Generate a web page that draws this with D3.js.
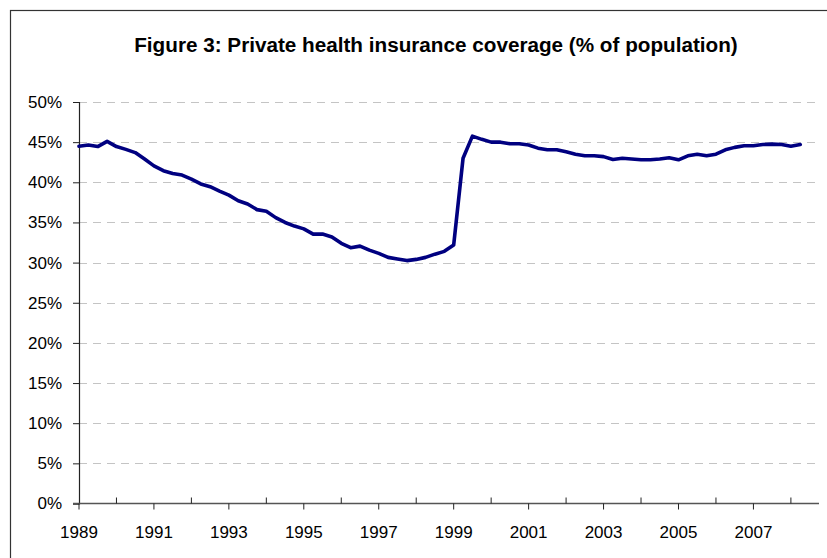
<!DOCTYPE html>
<html>
<head>
<meta charset="utf-8">
<script src="https://cdn.jsdelivr.net/npm/d3@7/dist/d3.min.js"></script>
<style>
  html, body { margin: 0; padding: 0; background: #ffffff; }
  svg { display: block; }
  text { font-family: "Liberation Sans", Arial, sans-serif; fill: #000; }
</style>
</head>
<body>
<svg id="chart" width="827" height="558"></svg>
<script>
// Quarterly private health insurance coverage, share of population (%),
// first value is the 1989 quarter, one value per quarter after that.
const startYear = 1989;
const quarterCount = 80; // 1989 Q1 .. 2008 Q4 on the category axis
const coverage = [
  44.5, 44.65, 44.45, 45.1, 44.45, 44.1, 43.7, 42.9,
  42.05, 41.45, 41.1, 40.9, 40.4, 39.8, 39.45, 38.9,
  38.4, 37.7, 37.3, 36.6, 36.4, 35.6, 35.0, 34.55,
  34.2, 33.55, 33.55, 33.2, 32.4, 31.85, 32.05, 31.55,
  31.15, 30.65, 30.45, 30.25, 30.4, 30.65, 31.05, 31.4,
  32.2, 43.0, 45.75, 45.35, 45.0, 45.0, 44.8, 44.8,
  44.65, 44.25, 44.05, 44.05, 43.8, 43.5, 43.3, 43.3,
  43.2, 42.85, 43.0, 42.9, 42.8, 42.8, 42.9, 43.05,
  42.8, 43.3, 43.5, 43.3, 43.5, 44.05, 44.35, 44.55,
  44.55, 44.7, 44.75, 44.7, 44.5, 44.7
];
const yTicks = [0, 5, 10, 15, 20, 25, 30, 35, 40, 45, 50];
const yearTicks = d3.range(1989, 2009);            // one tick per year
const yearLabels = ["1989", "1991", "1993", "1995", "1997", "1999", "2001", "2003", "2005", "2007"];
const title = "Figure 3: Private health insurance coverage (% of population)";

const svg = d3.select("#chart");

// Outer chart frame
svg.append("rect")
  .attr("x", 10.5).attr("y", 10.5)
  .attr("width", 830).attr("height", 560)
  .attr("fill", "none")
  .attr("stroke", "#333")
  .attr("stroke-width", 1.2);

const plot = { left: 79, right: 819, top: 102, bottom: 503.5 };

const x = d3.scaleLinear()
  .domain([startYear, startYear + (quarterCount - 1) / 4])
  .range([plot.left, plot.right]);
const y = d3.scaleLinear()
  .domain([0, 50])
  .range([plot.bottom, plot.top]);

// Title
svg.append("text")
  .attr("x", 436)
  .attr("y", 51.5)
  .attr("text-anchor", "middle")
  .style("font-weight", "bold")
  .style("font-size", "20.7px")
  .text(title);

// Dashed horizontal gridlines
svg.append("g")
  .selectAll("line")
  .data(yTicks.filter(d => d > 0))
  .join("line")
  .attr("x1", plot.left).attr("x2", plot.right)
  .attr("y1", d => Math.round(y(d)) + 0.5)
  .attr("y2", d => Math.round(y(d)) + 0.5)
  .attr("stroke", "#c4c4c4")
  .attr("stroke-width", 1.2)
  .attr("stroke-dasharray", "8,6");

// Value axis
const yAxis = d3.axisLeft(y)
  .tickValues(yTicks)
  .tickSize(6)
  .tickPadding(11)
  .tickFormat(d => d + "%");
const gy = svg.append("g")
  .attr("transform", `translate(${plot.left},0)`)
  .call(yAxis);
gy.select(".domain").attr("stroke", "#222").attr("stroke-width", 1.2);
gy.selectAll(".tick line").attr("stroke", "#222");
gy.selectAll(".tick text")
  .style("font-size", "17px")
  .style("font-family", "'Liberation Sans', Arial, sans-serif")
  .attr("fill", "#000");

// Category axis: labelled years tick downward, the others tick upward
const gx = svg.append("g").attr("transform", `translate(0,${plot.bottom})`);
gx.append("line")
  .attr("x1", plot.left - 6).attr("x2", plot.right)
  .attr("stroke", "#555")
  .attr("stroke-width", 1.6);
gx.selectAll("line.tick")
  .data(yearTicks)
  .join("line")
  .attr("class", "tick")
  .attr("x1", d => x(d)).attr("x2", d => x(d))
  .attr("y1", 0)
  .attr("y2", d => yearLabels.includes(String(d)) ? 6 : -6)
  .attr("stroke", "#222")
  .attr("stroke-width", 1);
gx.selectAll("text")
  .data(yearLabels)
  .join("text")
  .attr("x", d => x(+d))
  .attr("y", 34)
  .attr("text-anchor", "middle")
  .style("font-size", "17px")
  .text(d => d);

// Coverage line
const line = d3.line()
  .x((d, i) => x(startYear + i / 4))
  .y(d => y(d));
svg.append("path")
  .datum(coverage)
  .attr("d", line)
  .attr("fill", "none")
  .attr("stroke", "#000080")
  .attr("stroke-width", 3.6)
  .attr("stroke-linejoin", "round")
  .attr("stroke-linecap", "round");
</script>
</body>
</html>
